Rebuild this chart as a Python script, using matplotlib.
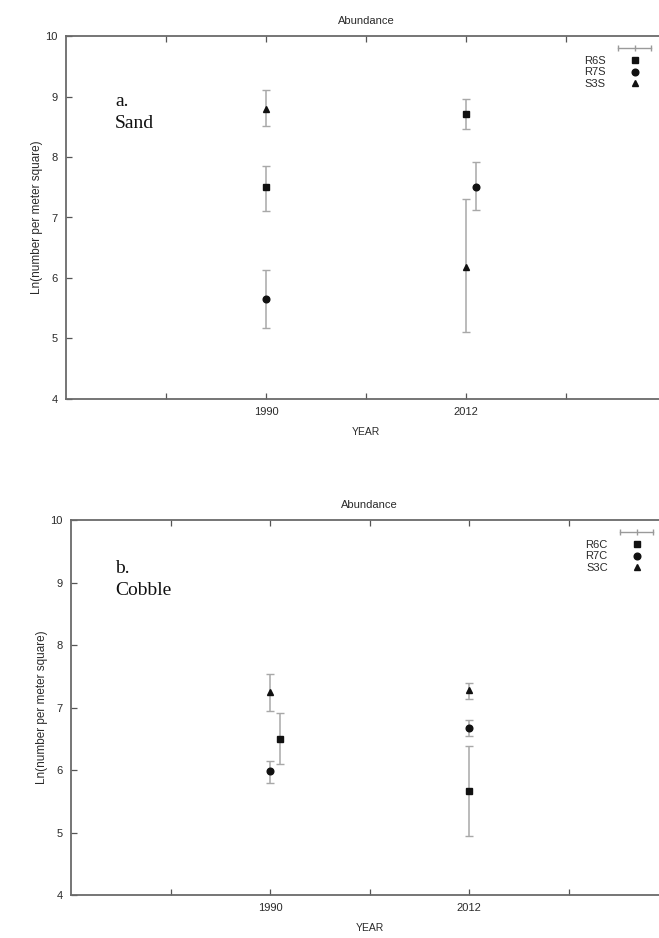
# Abundance by year, sand and cobble sites (gnuplot-style error bars)

import matplotlib
matplotlib.use("Agg")
import matplotlib.pyplot as plt
from matplotlib.lines import Line2D
from matplotlib.legend_handler import HandlerLine2D

# x positions: 1 -> 1990, 2 -> 2012
tick_pos = [0.5, 1, 1.5, 2, 2.5]
tick_labels = ["", "1990", "", "2012", ""]

# sand sites (panel a)
sand_names = ["R6S", "R7S", "S3S"]
sand_x = [[1.0, 2.0], [1.0, 2.05], [1.0, 2.0]]
sand_mean = [[7.50, 8.71], [5.66, 7.51], [8.80, 6.19]]
sand_low = [[7.11, 8.47], [5.18, 7.12], [8.51, 5.10]]
sand_high = [[7.85, 8.96], [6.13, 7.91], [9.11, 7.30]]

# cobble sites (panel b)
cobble_names = ["R6C", "R7C", "S3C"]
cobble_x = [[1.05, 2.0], [1.0, 2.0], [1.0, 2.0]]
cobble_mean = [[6.50, 5.66], [5.98, 6.67], [7.25, 7.28]]
cobble_low = [[6.09, 4.95], [5.80, 6.54], [6.94, 7.14]]
cobble_high = [[6.91, 6.39], [6.15, 6.80], [7.54, 7.40]]

markers = ["s", "o", "^"]
msizes = [4.6, 4.8, 4.2]
txt = "#2a2a2a"
sans = ["Liberation Sans", "DejaVu Sans"]
serif = ["Liberation Serif", "DejaVu Serif"]

fig = plt.figure(figsize=(6.59, 9.38), dpi=100)


def draw_panel(rect, names, xs, means, lows, highs, tag, tag_xy):
    ax = fig.add_axes(rect)
    for name, x, m, lo, hi, mk, ms in zip(names, xs, means, lows, highs, markers, msizes):
        err = [[a - b for a, b in zip(m, lo)], [b - a for a, b in zip(m, hi)]]
        ax.errorbar(x, m, yerr=err, fmt="none", ecolor="#a8a8a8",
                    elinewidth=1.1, capsize=3, capthick=1.0, zorder=2)
        ax.plot(x, m, linestyle="none", marker=mk, markersize=ms,
                color="#111111", zorder=3, label=name)

    ax.set_xlim(0, 3)
    ax.set_ylim(4, 10)
    ax.set_xticks(tick_pos)
    ax.set_xticklabels(tick_labels)
    ax.set_yticks(range(4, 11))
    ax.tick_params(direction="in", length=4, width=0.9, color="#555555",
                   top=True, right=True, labelsize=8, labelcolor=txt, pad=6)
    for lab in ax.get_xticklabels() + ax.get_yticklabels():
        lab.set_family(sans)
    for sp in ax.spines.values():
        sp.set_color("#6a6a6a")
        sp.set_linewidth(1.3)

    ax.set_title("Abundance", fontsize=8, color=txt, family=sans, pad=9)
    ax.set_xlabel("YEAR", fontsize=7.5, color=txt, family=sans, labelpad=7)
    ax.set_ylabel("Ln(number per meter square)", fontsize=8.5, color=txt,
                  family=sans, labelpad=2)

    ax.text(tag_xy[0], tag_xy[1], tag, fontsize=14, family=serif,
            color="#111111", va="top", ha="left", linespacing=1.42)

    # gnuplot-like key: labels left, symbols right, errorbar sample on top
    sample = Line2D([], [], color="#9a9a9a", lw=1.0, marker="|",
                    markersize=4, markeredgewidth=1.0)
    handles, labels = ax.get_legend_handles_labels()
    leg = ax.legend([sample] + handles, [""] + labels, loc="upper right",
                    bbox_to_anchor=(0.995, 1.0), frameon=False,
                    markerfirst=False, handlelength=3.6,
                    labelspacing=0.14, handletextpad=0.8, borderaxespad=0.35,
                    prop={"family": sans, "size": 8},
                    handler_map={sample: HandlerLine2D(numpoints=3)})
    for t in leg.get_texts():
        t.set_color(txt)
    return ax


draw_panel([66 / 659, 1 - 399 / 938, 600 / 659, 363 / 938],
           sand_names, sand_x, sand_mean, sand_low, sand_high,
           "a.\nSand", (0.245, 9.06))
draw_panel([71 / 659, 1 - 895 / 938, 597 / 659, 375 / 938],
           cobble_names, cobble_x, cobble_mean, cobble_low, cobble_high,
           "b.\nCobble", (0.222, 9.36))

fig.savefig("out.png", dpi=100)
